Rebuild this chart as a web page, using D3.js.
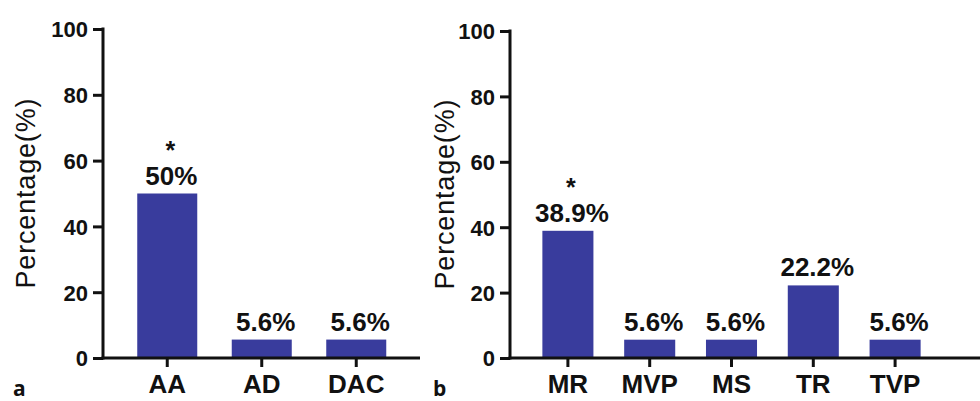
<!DOCTYPE html>
<html>
<head>
<meta charset="utf-8">
<script src="https://cdn.jsdelivr.net/npm/d3@7"></script>
<style>
  body { margin: 0; background: #fff; }
  svg text { font-family: "Liberation Sans", Arial, Helvetica, sans-serif; fill: #111; }
</style>
</head>
<body>
<script>
(function(){

    //chart data
    var catsA = ["AA", "AD", "DAC"];
    var valsA = [50, 5.6, 5.6];
    var labelsA = ["50%", "5.6%", "5.6%"];
    var starsA = [true, false, false];

    var catsB = ["MR", "MVP", "MS", "TR", "TVP"];
    var valsB = [38.9, 5.6, 5.6, 22.2, 5.6];
    var labelsB = ["38.9%", "5.6%", "5.6%", "22.2%", "5.6%"];
    var starsB = [true, false, false, false, false];

    var yTicks = [0, 20, 40, 60, 80, 100];
    var yTitle = "Percentage(%)";

    var barColor = "#393c9d";

    var svg = d3.select("body")
        .append("svg")
        .attr("width", 980)
        .attr("height", 401);

    //panel a
    drawPanel({
        cats: catsA, vals: valsA, labels: labelsA, stars: starsA,
        axisX: 103, axisEnd: 420, yTop: 29, yBottom: 358,
        band: [120, 403.5], pad: 0.365,
        titleX: 35, letter: "a", letterX: 13
    });

    //panel b
    drawPanel({
        cats: catsB, vals: valsB, labels: labelsB, stars: starsB,
        axisX: 510, axisEnd: 980, yTop: 31, yBottom: 358,
        band: [527, 936], pad: 0.376,
        titleX: 454, letter: "b", letterX: 433
    });

function drawPanel(p){
    var g = svg.append("g");

    var y = d3.scaleLinear()
        .domain([0, 100])
        .range([p.yBottom, p.yTop]);

    //outer padding half of inner so each category gets an equal step
    var x = d3.scaleBand()
        .domain(p.cats)
        .range(p.band)
        .paddingInner(p.pad)
        .paddingOuter(p.pad / 2);

    var data = p.cats.map(function(c, i){
        return {cat: c, val: p.vals[i], label: p.labels[i], star: p.stars[i]};
    });

    //bars
    g.selectAll(".bar")
        .data(data)
        .enter()
        .append("rect")
        .attr("class", "bar")
        .attr("x", function(d){ return x(d.cat); })
        .attr("width", x.bandwidth())
        .attr("y", function(d){ return y(d.val); })
        .attr("height", function(d){ return y(0) - y(d.val); })
        .attr("fill", barColor);

    //value labels
    g.selectAll(".val")
        .data(data)
        .enter()
        .append("text")
        .attr("class", "val")
        .attr("x", function(d){ return x(d.cat) + x.bandwidth() / 2 + 4; })
        .attr("y", function(d){ return y(d.val) - 9; })
        .attr("text-anchor", "middle")
        .style("font-size", "26px")
        .style("font-weight", "bold")
        .text(function(d){ return d.label; });

    //significance stars
    g.selectAll(".star")
        .data(data.filter(function(d){ return d.star; }))
        .enter()
        .append("text")
        .attr("class", "star")
        .attr("x", function(d){ return x(d.cat) + x.bandwidth() / 2 + 3; })
        .attr("y", function(d){ return y(d.val) - 9 - 26; })
        .attr("text-anchor", "middle")
        .style("font-size", "25px")
        .style("font-weight", "bold")
        .text("*");

    //y axis
    var yAxis = g.append("g")
        .attr("transform", "translate(" + p.axisX + ",0)")
        .call(d3.axisLeft(y).tickValues(yTicks).tickSize(10).tickSizeOuter(0).tickPadding(5));
    yAxis.select(".domain").remove();
    yAxis.selectAll(".tick line").attr("stroke", "#111").attr("stroke-width", 3);
    yAxis.selectAll(".tick text")
        .style("font-size", "22px")
        .style("font-weight", "bold")
        .attr("dy", "0.36em");

    //x axis
    var xAxis = g.append("g")
        .attr("transform", "translate(0," + p.yBottom + ")")
        .call(d3.axisBottom(x).tickSize(9).tickSizeOuter(0).tickPadding(8));
    xAxis.select(".domain").remove();
    xAxis.selectAll(".tick line").attr("stroke", "#111").attr("stroke-width", 3);
    xAxis.selectAll(".tick text")
        .style("font-size", "26px")
        .style("font-weight", "bold")
        .attr("dy", "0.71em");

    //axis lines
    g.append("line")
        .attr("x1", p.axisX).attr("x2", p.axisX)
        .attr("y1", p.yTop - 1.5).attr("y2", p.yBottom + 1.5)
        .attr("stroke", "#111").attr("stroke-width", 3);
    g.append("line")
        .attr("x1", p.axisX - 1.5).attr("x2", p.axisEnd)
        .attr("y1", p.yBottom).attr("y2", p.yBottom)
        .attr("stroke", "#111").attr("stroke-width", 3);

    //y title
    g.append("text")
        .attr("transform", "translate(" + p.titleX + "," + (p.yTop + p.yBottom) / 2 + ") rotate(-90)")
        .attr("text-anchor", "middle")
        .attr("textLength", 190)
        .style("font-size", "27px")
        .text(yTitle);

    //panel letter
    g.append("text")
        .attr("x", p.letterX)
        .attr("y", 396)
        .style("font-family", "'Open Sans', 'Noto Sans', sans-serif")
        .style("font-size", "21px")
        .style("font-weight", "bold")
        .text(p.letter);
};

})();
</script>
</body>
</html>
